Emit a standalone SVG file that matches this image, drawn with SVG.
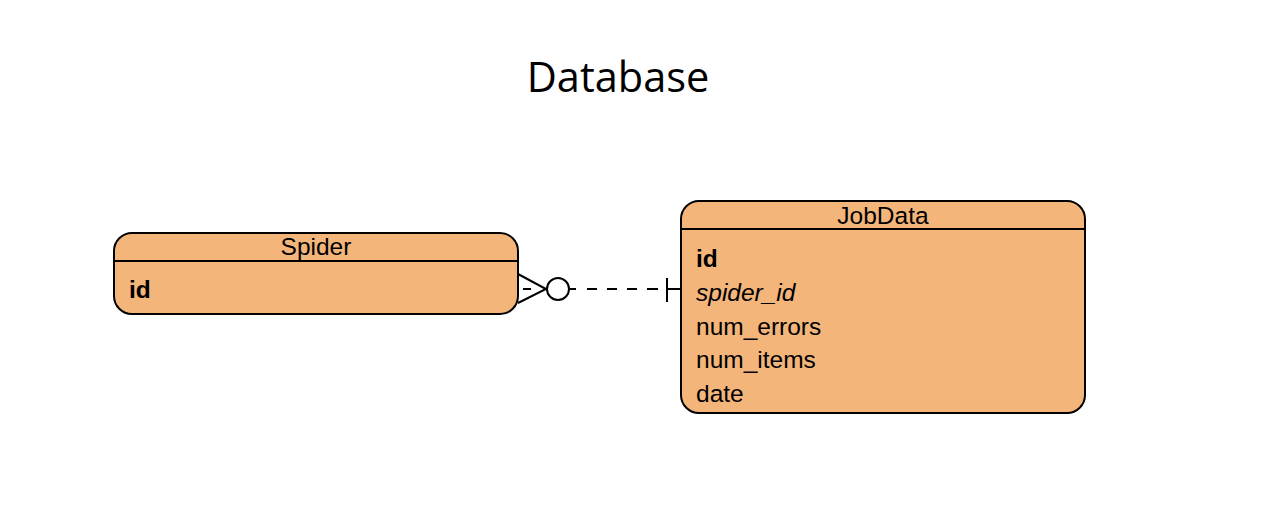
<svg xmlns="http://www.w3.org/2000/svg" width="1273" height="528" viewBox="0 0 1273 528">
<style>
.box{fill:#F4B57A;stroke:#000;stroke-width:2}
.ln{stroke:#000;stroke-width:2;fill:none}
.hd{font-family:"Liberation Sans",Arial,sans-serif;font-size:24.5px;text-anchor:middle;fill:#000}
.fd{font-family:"Liberation Sans",Arial,sans-serif;font-size:24.5px;fill:#000}
.b{font-weight:bold}
.i{font-style:italic}
</style>
<rect width="1273" height="528" fill="#fff"/>
<text x="618" y="92" font-family="'Open Sans',sans-serif" font-size="41.5" text-anchor="middle" fill="#000">Database</text>
<g id="spider">
<rect class="box" x="114" y="233" width="404" height="81" rx="18"/>
<line class="ln" x1="114" y1="261" x2="518" y2="261"/>
<text class="hd" x="316" y="255">Spider</text>
<text class="fd b" x="129" y="298">id</text>
</g>
<g id="jobdata">
<rect class="box" x="681" y="201" width="404" height="212" rx="18"/>
<line class="ln" x1="681" y1="229" x2="1085" y2="229"/>
<text class="hd" x="883" y="224">JobData</text>
<text class="fd b" x="696" y="267">id</text>
<text class="fd i" x="696" y="301">spider_id</text>
<text class="fd" x="696" y="335">num_errors</text>
<text class="fd" x="696" y="368">num_items</text>
<text class="fd" x="696" y="402">date</text>
</g>
<g id="connectors">
<path class="ln" d="M518 274 L546 289 L518 303"/>
<line class="ln" x1="523" y1="289" x2="531" y2="289"/>
<circle class="ln" cx="558" cy="289" r="11" fill="#fff"/>
<path class="ln" d="M569 289 H576 M587 289 H597 M607 289 H617 M627 289 H637 M647 289 H658"/>
<line class="ln" x1="667" y1="278" x2="667" y2="302"/>
<line class="ln" x1="667" y1="289" x2="681" y2="289"/>
</g>
</svg>
